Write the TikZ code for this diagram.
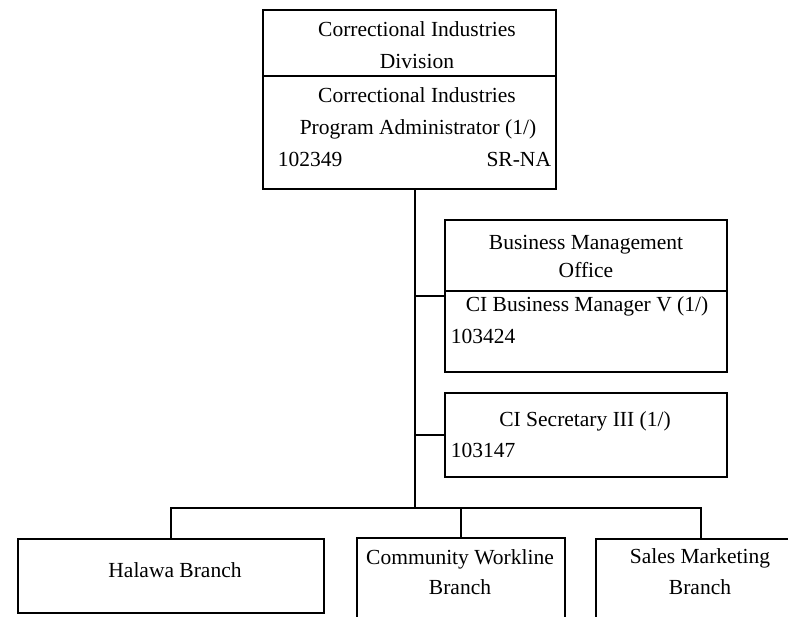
\documentclass[tikz,border=0pt]{standalone}
\usepackage{fontspec}
\setmainfont{Liberation Serif}
\begin{document}
\begin{tikzpicture}[x=1pt, y=-1pt, line width=1.9pt,
    box/.style={draw, rectangle, inner sep=0pt},
    txt/.style={font=\fontsize{21.5}{25}\selectfont, inner sep=0pt, anchor=base}]
    \useasboundingbox (0,0) rectangle (788,617);
    \clip (0,0) rectangle (788,617);
    % boxes
    \node[box, minimum width=293pt, minimum height=179pt] (div) at (409.5,99.5) {};
    \node[box, minimum width=282pt, minimum height=152pt] (bmo) at (586,296) {};
    \node[box, minimum width=282pt, minimum height=84pt] (sec) at (586,435) {};
    \node[box, minimum width=306pt, minimum height=74pt] (halawa) at (171,576) {};
    \node[box, minimum width=208pt, minimum height=88pt] (cwl) at (461,582) {};
    \node[box, minimum width=210pt, minimum height=87pt] (sales) at (701,582.5) {};
    \draw (div.west |- 0,76) -- (div.east |- 0,76);
    \draw (bmo.west |- 0,291) -- (bmo.east |- 0,291);
    % texts
    \node[txt] (divname) at (417,37) {Correctional Industries};
    \node[txt] (divname2) at (417,69) {Division};
    \node[txt] (padm) at (417,103) {Correctional Industries};
    \node[txt] (padm2) at (418,135) {Program Administrator (1/)};
    \node[txt, anchor=base west] (padmnum) at (277,167) {102349};
    \node[txt, anchor=base east] (padmsr) at (552,167) {SR-NA};
    \node[txt] (bmoname) at (586,250) {Business Management};
    \node[txt] (bmoname2) at (586,278) {Office};
    \node[txt] (bmgr) at (587,312) {CI Business Manager V (1/)};
    \node[txt, anchor=base west] (bmgrnum) at (450,344) {103424};
    \node[txt] (secname) at (585,427) {CI Secretary III (1/)};
    \node[txt, anchor=base west] (secnum) at (450,458) {103147};
    \node[txt] (halawaname) at (175,578) {Halawa Branch};
    \node[txt] (cwlname) at (460,565) {Community Workline};
    \node[txt] (cwlname2) at (460,595) {Branch};
    \node[txt] (salesname) at (700,564) {Sales Marketing};
    \node[txt] (salesname2) at (700,595) {Branch};
    % connectors
    \coordinate (bus) at (415,508);
    \draw (div.south -| bus) -- (bus);
    \draw (bmo.west) -- (bmo.west -| bus);
    \draw (sec.west) -- (sec.west -| bus);
    \draw (halawa.north) |- (bus) -| (sales.north);
    \draw (bus -| cwl.north) -- (cwl.north);
\end{tikzpicture}
\end{document}
